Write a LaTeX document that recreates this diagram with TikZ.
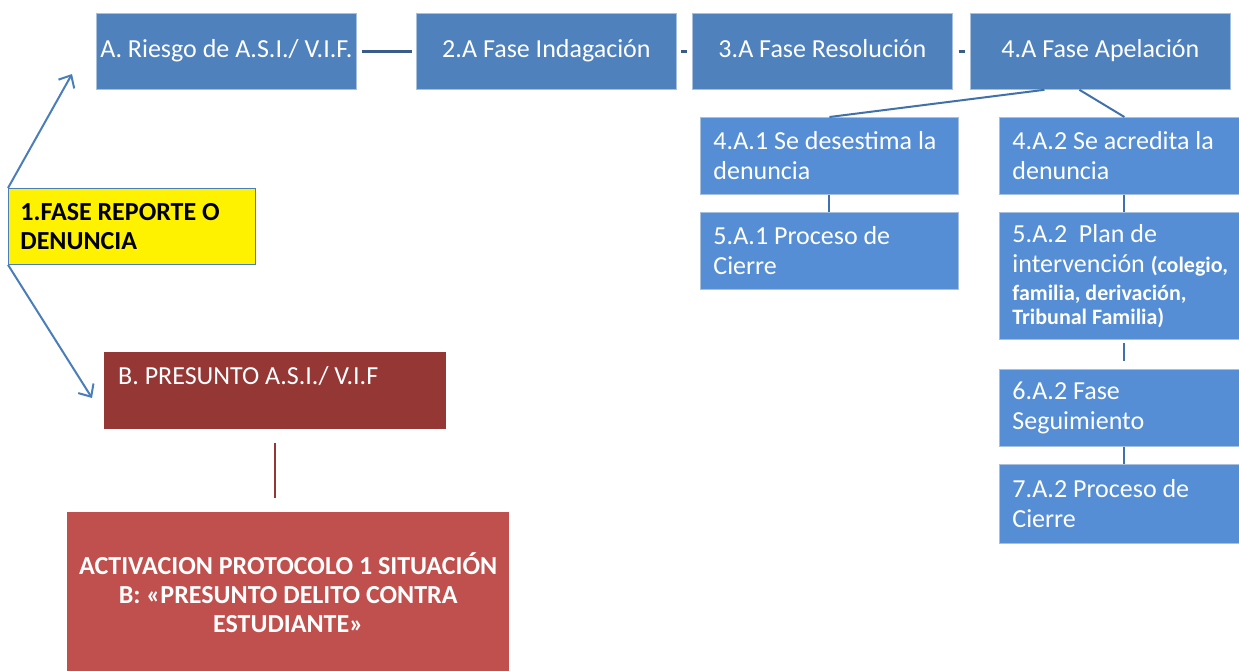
\documentclass[tikz,border=0pt]{standalone}
\usepackage{fontspec}
\setmainfont{Carlito}
\usetikzlibrary{arrows.meta,positioning,calc}
\definecolor{phaseblue}{RGB}{79,129,189}
\definecolor{stepblue}{RGB}{85,142,213}
\definecolor{edgeblue}{RGB}{167,192,222}
\definecolor{linkblue}{RGB}{56,93,138}
\definecolor{treeblue}{RGB}{65,113,170}
\definecolor{arrowblue}{RGB}{74,126,187}
\definecolor{riskred}{RGB}{149,55,53}
\definecolor{alertred}{RGB}{192,80,77}

\begin{document}
\begin{tikzpicture}[x=1pt, y=-1pt,
    base/.style={rectangle, inner sep=0pt, anchor=north west, text=white, font=\fontsize{26}{30}\selectfont},
    phase/.style={base, fill=phaseblue, draw=edgeblue, line width=0.8pt, minimum width=260pt, minimum height=76pt,
        text height=19pt, text depth=7pt},
    stepbox/.style={base, fill=stepblue, draw=edgeblue, line width=0.8pt, inner xsep=13pt, align=flush left, minimum height=77pt},
    narrow/.style={stepbox, minimum width=250pt, text width=224pt},
    wide/.style={stepbox, minimum width=258pt, text width=232pt},
    link/.style={linkblue, line width=3pt},
    tree/.style={treeblue, line width=2pt},
    pointer/.style={arrowblue, line width=2pt, -{Straight Barb[length=10pt, width=18pt]}},
]
    \newcommand{\smallbold}{\fontsize{22}{24}\selectfont\bfseries}
    \useasboundingbox (0,0) rectangle (1239,670);
    % Top row
    \node[phase] (riesgo) at (96,13) {A. Riesgo de A.S.I./ V.I.F.};
    \node[phase] (indaga) at (416,13) {2.A Fase Indagación};
    \node[phase] (resol) at (692,13) {3.A Fase Resolución};
    \node[phase] (apela) at (970,13) {4.A Fase Apelación};
    \draw[link, shorten <=5pt, shorten >=4pt] (riesgo) -- (indaga);
    \draw[link, shorten <=4pt, shorten >=5pt] (indaga) -- (resol);
    \draw[link, shorten <=6pt, shorten >=5pt] (resol) -- (apela);
    % Report box and arrows
    \node[base, fill=yellow, draw=arrowblue, line width=0.8pt, text=black, font=\fontsize{26}{29}\selectfont\bfseries,
        inner xsep=12pt, align=flush left, text width=223pt, minimum width=247pt, minimum height=76pt]
        (reporte) at (8,188) {1.FASE REPORTE O\\DENUNCIA};
    \coordinate (tipA) at (72,74);
    \coordinate (tipB) at (92,398);
    \draw[pointer] (reporte.north west) -- (tipA);
    \draw[pointer] (reporte.south west) -- (tipB);
    % Branch B
    \node[base, fill=riskred, inner xsep=14pt, align=flush left, text width=314pt, minimum width=342pt, minimum height=77pt]
        (presunto) at (104,352) {B. PRESUNTO A.S.I./ V.I.F\\\mbox{}};
    \node[base, fill=alertred, font=\fontsize{26}{29}\selectfont\bfseries, align=flush center, text width=442pt,
        minimum width=442pt, minimum height=160pt]
        (activa) at (67,512) {ACTIVACION PROTOCOLO 1 SITUACIÓN\\B: «PRESUNTO DELITO CONTRA\\ESTUDIANTE»};
    \draw[riskred, line width=2pt, shorten <=14pt, shorten >=14pt] (presunto.south) -- (presunto.south |- activa.north);
    % Right column
    \node[wide] (desest) at (700,117) {4.A.1 Se desestima la\\denuncia};
    \node[wide] (cierreUno) at (700,212) {5.A.1 Proceso de\\Cierre};
    \node[narrow] (acred) at (999,117) {4.A.2 Se acredita la\\denuncia};
    \node[narrow, minimum height=127pt] (plan) at (999,212)
        {5.A.2\ \ Plan de\\intervención {\smallbold(colegio,}\\[-2pt]
        {\smallbold familia, derivación,}\\[-6pt]{\smallbold Tribunal Familia)}};
    \node[narrow] (segui) at (999,369) {6.A.2 Fase\\Seguimiento};
    \node[narrow, minimum height=79pt] (cierreDos) at (999,464) {7.A.2 Proceso de\\Cierre};
    \draw[tree] ([xshift=-56pt]apela.south) -- (desest.north);
    \draw[tree] ([xshift=-21pt]apela.south) -- (acred.north);
    \draw[tree] (desest.south) -- (desest.south |- cierreUno.north);
    \draw[tree] (acred.south) -- (plan.north);
    \draw[tree, shorten <=3pt, shorten >=8pt] (plan.south) -- (segui.north);
    \draw[tree] (segui.south) -- (cierreDos.north);
\end{tikzpicture}
\end{document}
